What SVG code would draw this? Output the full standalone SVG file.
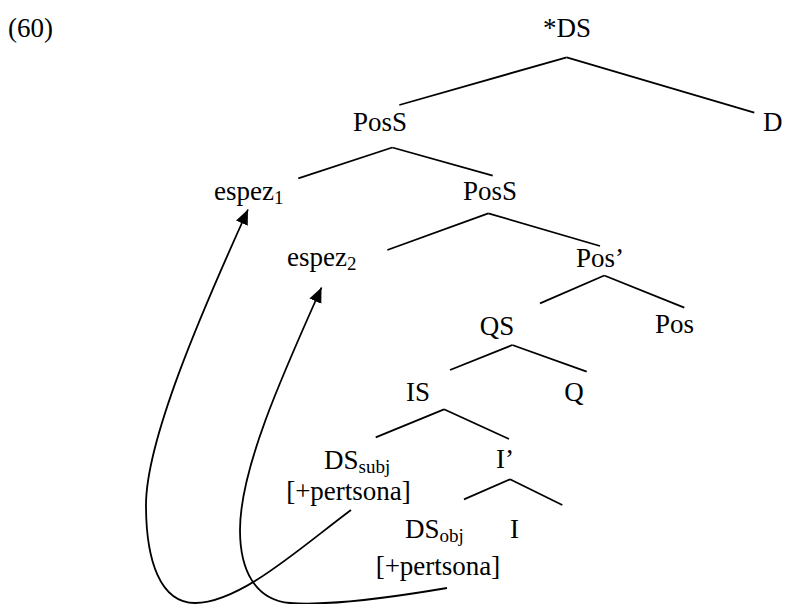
<svg xmlns="http://www.w3.org/2000/svg" width="785" height="604" viewBox="0 0 785 604">
<style>
text{font-family:"Liberation Serif","Times New Roman",serif;font-size:27px;fill:#000}
.sub{font-size:19px}
.e{stroke:#000;stroke-width:1.8;fill:none;stroke-linecap:butt}
.mv{stroke:#000;stroke-width:1.8;fill:none;marker-end:url(#ah)}
.m{text-anchor:middle}
</style>
<defs>
<marker id="ah" markerUnits="userSpaceOnUse" markerWidth="16" markerHeight="14" refX="15" refY="6.5" orient="auto" viewBox="0 0 16 14">
<path d="M0,0 L15,6.5 L0,13 z" fill="#000"/>
</marker>
</defs>
<rect width="785" height="604" fill="#fff"/>
<g id="label-60"><text x="8" y="37">(60)</text></g>
<g id="n-DS-top"><text class="m" x="567" y="37">*DS</text></g>
<g id="n-PosS1"><text class="m" x="380" y="131">PosS</text></g>
<g id="n-D"><text x="763" y="131">D</text></g>
<g id="n-espez1"><text x="214" y="200">espez<tspan class="sub" dy="4">1</tspan></text></g>
<g id="n-PosS2"><text class="m" x="490" y="200">PosS</text></g>
<g id="n-espez2"><text x="287" y="266">espez<tspan class="sub" dy="4">2</tspan></text></g>
<g id="n-PosBar"><text x="576" y="267">Pos’</text></g>
<g id="n-QS"><text class="m" x="497" y="335">QS</text></g>
<g id="n-Pos"><text x="655" y="333">Pos</text></g>
<g id="n-IS"><text class="m" x="418" y="401">IS</text></g>
<g id="n-Q"><text class="m" x="574" y="401">Q</text></g>
<g id="n-DSsubj"><text x="324" y="469">DS<tspan class="sub" dy="4">subj</tspan></text><text class="m" x="348.5" y="500">[+pertsona]</text></g>
<g id="n-IBar"><text x="496" y="468">I’</text></g>
<g id="n-DSobj"><text x="405" y="538">DS<tspan class="sub" dy="4">obj</tspan></text><text class="m" x="438" y="575">[+pertsona]</text></g>
<g id="n-I"><text x="510" y="538">I</text></g>
<g id="connectors">
<line class="e" x1="566.7" y1="57.3" x2="399.3" y2="105"/>
<line class="e" x1="566.7" y1="57.3" x2="754.3" y2="112.7"/>
<line class="e" x1="392.3" y1="147.5" x2="298.3" y2="178.3"/>
<line class="e" x1="392.3" y1="147.5" x2="492.7" y2="175.7"/>
<line class="e" x1="488.3" y1="213.3" x2="387.3" y2="250"/>
<line class="e" x1="488.3" y1="213.3" x2="600" y2="246"/>
<line class="e" x1="604.3" y1="275.5" x2="540" y2="303.3"/>
<line class="e" x1="604.3" y1="275.5" x2="684.3" y2="307.7"/>
<line class="e" x1="512.3" y1="345" x2="450" y2="370"/>
<line class="e" x1="512.3" y1="345" x2="586.7" y2="371.7"/>
<line class="e" x1="444" y1="409.3" x2="375.7" y2="437.3"/>
<line class="e" x1="444" y1="409.3" x2="509" y2="439"/>
<line class="e" x1="510" y1="479.3" x2="464" y2="499.3"/>
<line class="e" x1="510" y1="479.3" x2="562.3" y2="505"/>
<path class="mv" d="M351,510 C300,548 240,603 195,603 C160,603 146,560 146,505 C146,440 202,311 248,209.5"/>
<path class="mv" d="M447,588 C400,596 330,606 290,603 C255,600 240,570 240,530 C240,470 280,380 321.5,287.5"/>
</g>
</svg>
